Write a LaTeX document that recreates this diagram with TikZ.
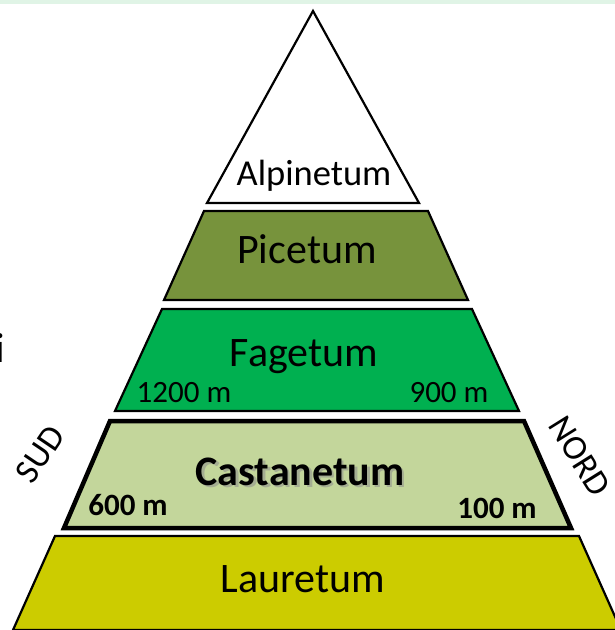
\documentclass[tikz,border=0pt]{standalone}
\usepackage{fontspec}
\setmainfont{Carlito}
\definecolor{topband}{HTML}{E0F4E6}
\definecolor{picecol}{HTML}{77933C}
\definecolor{fagecol}{HTML}{00B050}
\definecolor{castcol}{HTML}{C3D69B}
\definecolor{laurcol}{HTML}{CCCC00}
\tikzset{
  layer/.style={draw=black, line width=2.2pt, line join=miter},
  big/.style={font=\fontsize{42}{48}\selectfont, inner sep=0pt, anchor=base},
  alp/.style={font=\fontsize{36.5}{42}\selectfont, inner sep=0pt, anchor=base},
  small/.style={font=\fontsize{31}{36}\selectfont, inner sep=0pt, anchor=base},
  smallb/.style={font=\fontsize{31}{36}\selectfont\bfseries, inner sep=0pt, anchor=base},
  side/.style={font=\fontsize{35}{40}\selectfont, inner sep=0pt},
}
\begin{document}
\begin{tikzpicture}[x=1pt,y=-1pt]
\useasboundingbox (0,0) rectangle (615,630);
\clip (0,0) rectangle (615,630);
\fill[white] (0,0) rectangle (615,630);
\fill[topband] (0,0) rectangle (615,4);
% layers
\draw[layer, fill=white] (313,11) -- (419,203) -- (207,203) -- cycle;
\draw[layer, fill=picecol] (204,211) -- (428,211) -- (468,300) -- (164,300) -- cycle;
\draw[layer, fill=fagecol] (162,309) -- (472,309) -- (519,411) -- (115,411) -- cycle;
\draw[draw=black, line width=4.5pt, fill=castcol, line join=miter] (110,421) -- (524,421) -- (571,528) -- (64,528) -- cycle;
\draw[layer, fill=laurcol] (55,536) -- (579,536) -- (621,630) -- (13,630) -- cycle;
% texts
\node[alp] (alp) at (314,185) {Alpinetum};
\node[big] (pic) at (307,263) {Picetum};
\node[big] (fag) at (304,366) {Fagetum};
\node[small] (f1) at (184,402) {1200 m};
\node[small] (f2) at (449,402) {900 m};
\node[big, font=\fontsize{42}{48}\selectfont\bfseries, text=black!45, opacity=0.55] (cshadow) at (302.5,487.5) {Castanetum};
\node[big, font=\fontsize{42}{48}\selectfont\bfseries] (cast) at (300,485) {Castanetum};
\node[smallb] (c1) at (128,515) {600 m};
\node[smallb] (c2) at (497,518) {100 m};
\node[big] (lau) at (303,592) {Lauretum};
\node[side, rotate=56] (sud) at (40,454) {SUD};
\node[side, rotate=-58] (nord) at (580,456) {NORD};
\node[big, anchor=base west] (ii) at (-4.5,362) {i};
\end{tikzpicture}
\end{document}
